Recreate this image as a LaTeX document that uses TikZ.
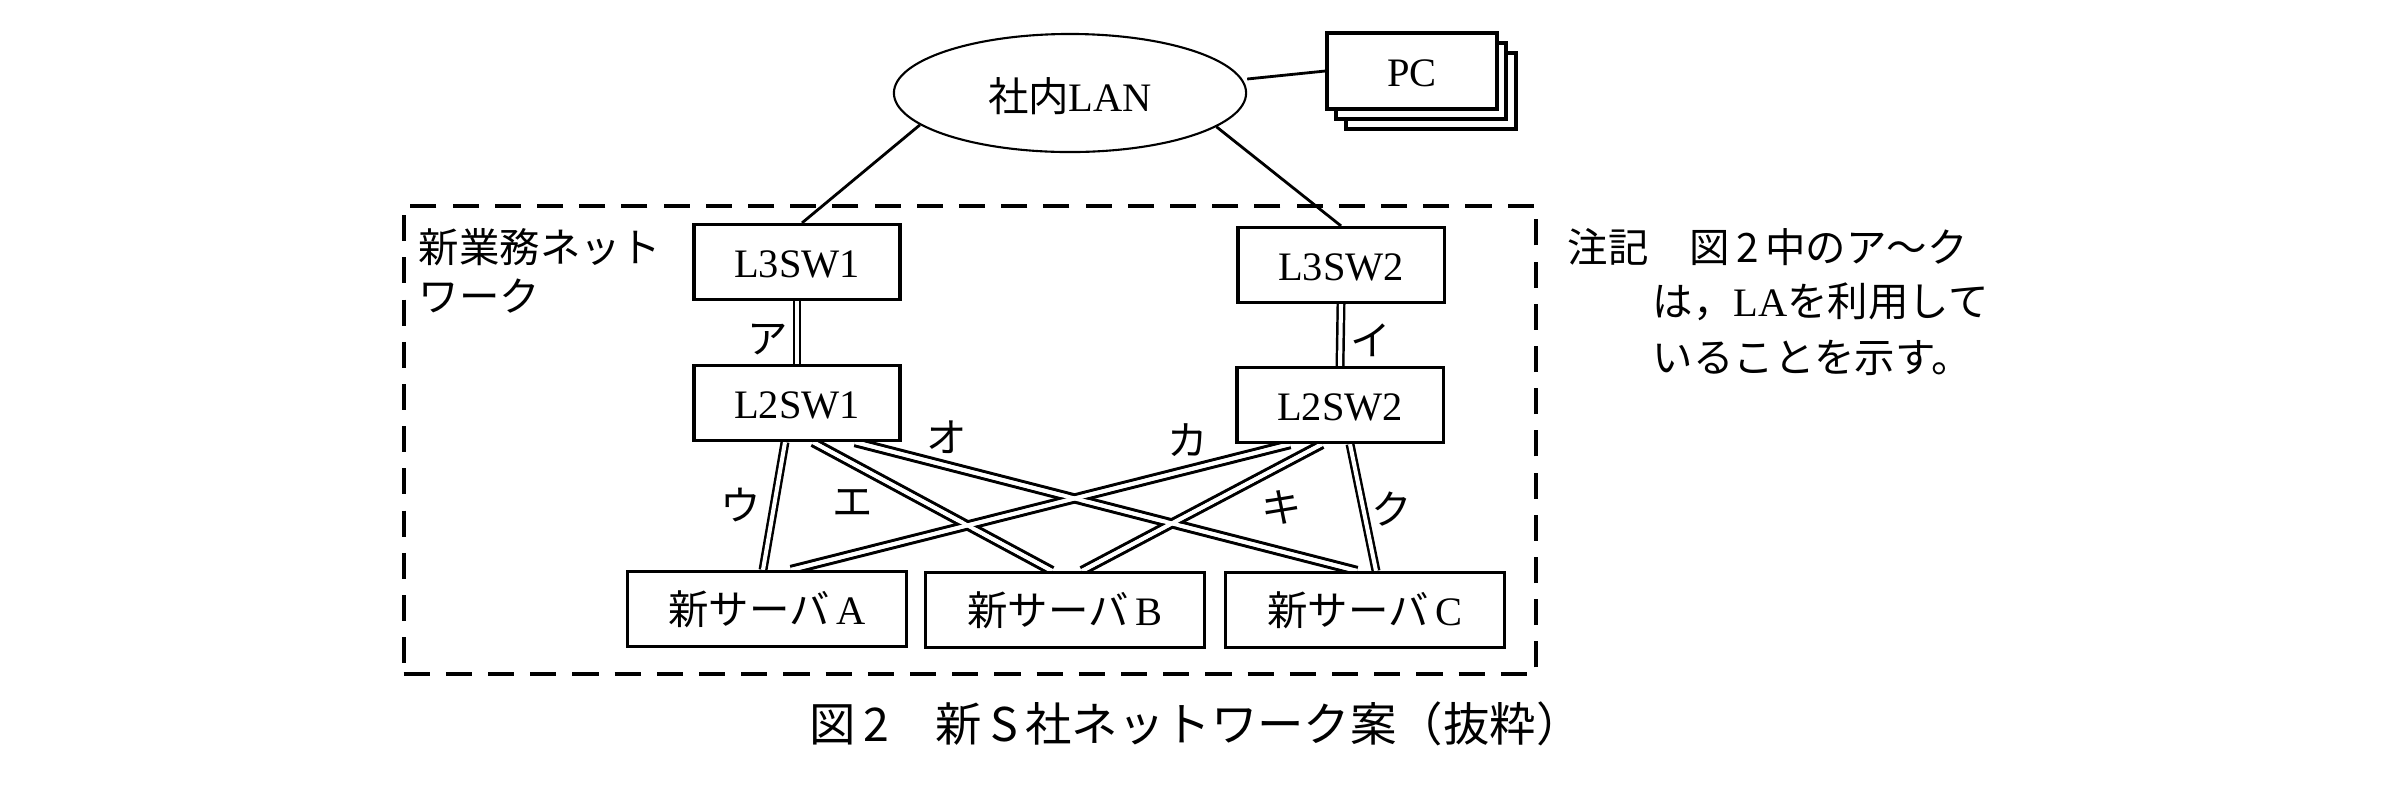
\documentclass[tikz,border=0pt]{standalone}
\usepackage{fontspec}
\setmainfont{Liberation Serif}
\newfontfamily\jp{Noto Sans CJK JP}
\usetikzlibrary{shapes.geometric,calc,backgrounds}
\begin{document}
\begin{tikzpicture}[x=0.01cm,y=-0.01cm,
  every node/.style={font=\fontsize{11.5pt}{14pt}\selectfont, inner sep=0pt, text height=10.1pt, text depth=1.4pt},
  box/.style={draw, line width=0.9pt, rectangle, fill=white, minimum width=2.06cm, minimum height=0.75cm},
  srv/.style={box, minimum width=2.79cm},
  pcbox/.style={box, minimum width=1.70cm, minimum height=0.76cm},
  lnk/.style={line width=0.8pt},
  dblA/.style={double, line width=0.7pt, double distance=1.15pt},
  dblB/.style={double, line width=0.9pt, double distance=1.1pt},
  innerB/.style={white, line width=1.1pt},
  frame/.style={draw, line width=1.1pt, dash pattern=on 7.4pt off 4.6pt, minimum width=11.32cm, minimum height=4.68cm}
]
\useasboundingbox (0,0) rectangle (2404,802);

% dashed frame
\node[frame] (net) at (970,440) {};

% LAN and PCs
\node[draw, ellipse, line width=0.6pt, minimum width=3.52cm, minimum height=1.18cm] (lan) at (1070,93) {};
\node (lantxt) at (1070,96) {{\jp 社内}LAN};
\node[pcbox] (pcb2) at (1431,91) {};
\node[pcbox] (pcb1) at (1421,81) {};
\node[pcbox] (pc) at (1412,71) {PC};

% switches
\node[box] (l3a) at (797,262) {L3SW1};
\node[box] (l3b) at (1341,265) {L3SW2};
\node[box] (l2a) at (797,403) {L2SW1};
\node[box] (l2b) at (1340,405) {L2SW2};

% servers
\node[srv] (sa) at (767,609) {{\jp 新サーバ}\,A};
\node[srv] (sb) at (1065,610) {{\jp 新サーバ}\,B};
\node[srv] (sc) at (1365,610) {{\jp 新サーバ}\,C};

% connectors
\begin{pgfonlayer}{background}
\draw[lnk] (lan.east) ++(0,-14) coordinate (lanr) -- (pc.west);
\draw[lnk] (lan.192) -- ($(l3a.north)+(5,0)$);
\draw[lnk] (lan.347) -- (l3b.north);

\draw[dblA] (l3a.south) -- (l2a.north);
\draw[dblA] (l3b.south) -- (l2b.north);
\draw[dblA] ($(l2a.south)+(-12,0)$) -- ($(sa.north)+(-4,0)$);
\draw[dblA] ($(l2b.south)+(10,0)$) -- ($(sc.north)+(11,0)$);

\draw[dblB] ($(l2a.south)+(16,0)$) coordinate (e1) -- ($(sb.north)+(-13,0)$) coordinate (e2);
\draw[dblB] ($(l2a.south)+(58,0)$) coordinate (o1) -- ($(sc.north)+(-8,0)$) coordinate (o2);
\draw[dblB] ($(l2b.south)+(-50,0)$) coordinate (c1) -- ($(sa.north)+(24,0)$) coordinate (c2);
\draw[dblB] ($(l2b.south)+(-18,0)$) coordinate (k1) -- ($(sb.north)+(17,0)$) coordinate (k2);
\draw[innerB] (e1) -- (e2);
\draw[innerB] (o1) -- (o2);
\draw[innerB] (c1) -- (c2);
\draw[innerB] (k1) -- (k2);
\end{pgfonlayer}

% link labels
\node (ka) at (768,338) {\jp ア};
\node (ki) at (1371,340) {\jp イ};
\node (ku) at (741,505) {\jp ウ};
\node (ke) at (853,501) {\jp エ};
\node (ko) at (947,437) {\jp オ};
\node (kk) at (1188,440) {\jp カ};
\node (kki) at (1282,507) {\jp キ};
\node (kku) at (1392,509) {\jp ク};

% frame label
\node[anchor=west] (fl1) at (418,247) {\jp 新業務ネット};
\node[anchor=west] (fl2) at (418,296) {\jp ワーク};

% note
\node[anchor=west] (n1) at (1567,247) {\jp 注記　図\,2\,中のア～ク};
\node[anchor=west] (n2) at (1652,301) {{\jp は，}LA{\jp を利用して}};
\node[anchor=west] (n3) at (1652,357) {\jp いることを示す。};

% caption
\node (cap) at (1196,726) {\jp\fontsize{13.2pt}{16pt}\selectfont 図\,2　新\,S\,社ネットワーク案（抜粋）};
\end{tikzpicture}
\end{document}
